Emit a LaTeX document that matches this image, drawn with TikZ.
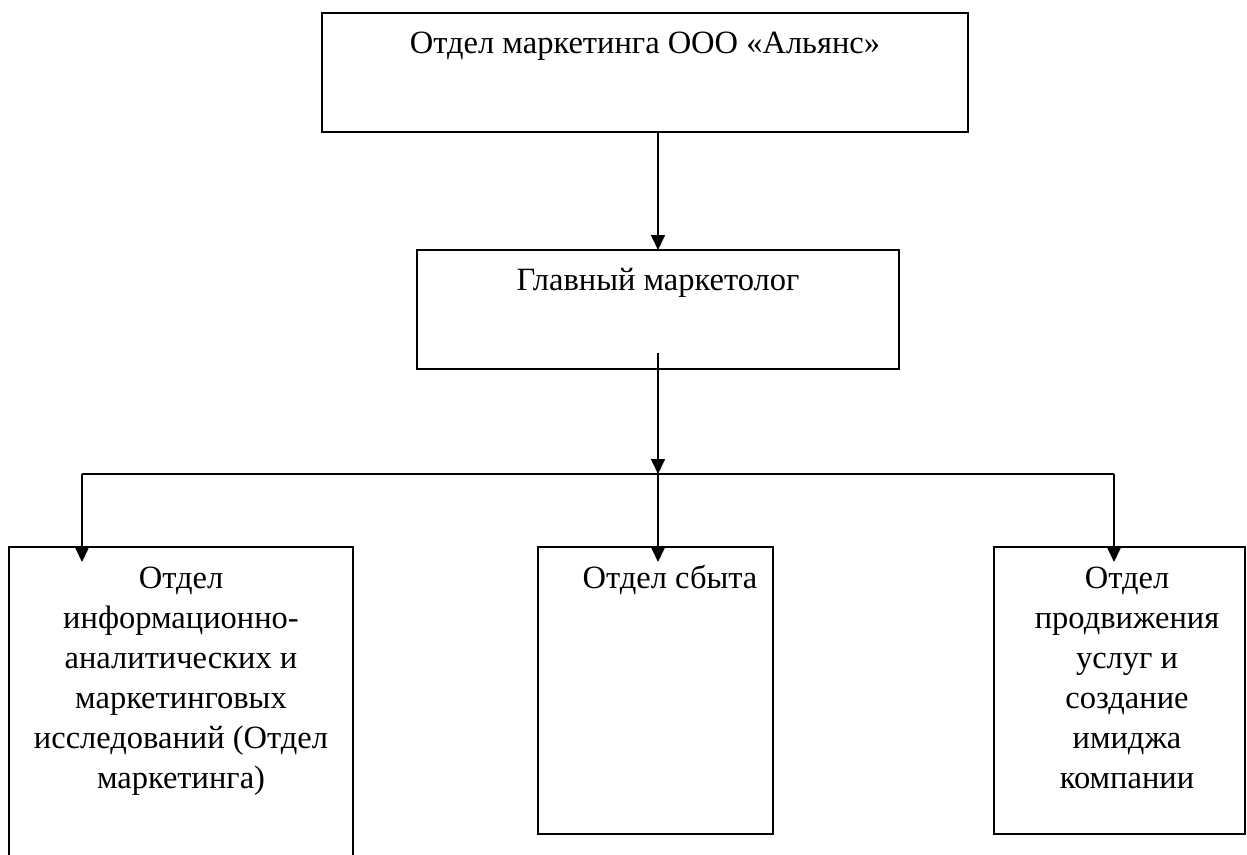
\documentclass[tikz,border=0pt]{standalone}
\usepackage{fontspec}
\setmainfont{Liberation Serif}
\usetikzlibrary{arrows.meta}
\begin{document}
\begin{tikzpicture}[x=1pt,y=-1pt,
  box/.style={draw, line width=1.6pt, inner sep=0pt, outer sep=0pt, rectangle},
  txt/.style={font=\fontsize{32.5}{40}\selectfont, anchor=base, inner sep=0pt, align=center},
  link/.style={line width=1.6pt},
  arr/.style={line width=1.6pt, -{Triangle[width=14pt,length=15pt]}}]
\useasboundingbox[fill=white] (0,0) rectangle (1247,854);
% boxes
\node[box, minimum width=646pt, minimum height=119pt] (top) at (645,72.5) {};
\node[box, minimum width=482pt, minimum height=119pt] (mid) at (658,309.5) {};
\node[box, minimum width=344pt, minimum height=320pt] (left) at (181,707) {};
\node[box, minimum width=235pt, minimum height=287pt] (sales) at (655.5,690.5) {};
\node[box, minimum width=251pt, minimum height=287pt] (promo) at (1119.5,690.5) {};
% texts (anchor = baseline of the last line)
\node[txt] (ttop) at (645,53) {Отдел маркетинга ООО «Альянс»};
\node[txt] (tmid) at (658,290) {Главный маркетолог};
\node[txt] (tleft) at (181,788) {Отдел\\информационно-\\аналитических и\\маркетинговых\\исследований (Отдел\\маркетинга)};
\node[txt] (tsales) at (670,588) {Отдел сбыта};
\node[txt] (tpromo) at (1127,788) {Отдел\\продвижения\\услуг и\\создание\\имиджа\\компании};
% connectors
\coordinate (j) at (658,474);
\coordinate (jl) at (82,474);
\coordinate (jr) at (1114,474);
\draw[arr] (top.south -| mid.north) -- (mid.north);
\draw[arr] ([yshift=16pt]mid.south) -- (j);
\draw[link] (jl) -- (jr);
\draw[arr, shorten >=-15pt] (jl) -- (jl |- left.north);
\draw[arr, shorten >=-15pt] (j) -- (j |- sales.north);
\draw[arr, shorten >=-15pt] (jr) -- (jr |- promo.north);
\end{tikzpicture}
\end{document}
